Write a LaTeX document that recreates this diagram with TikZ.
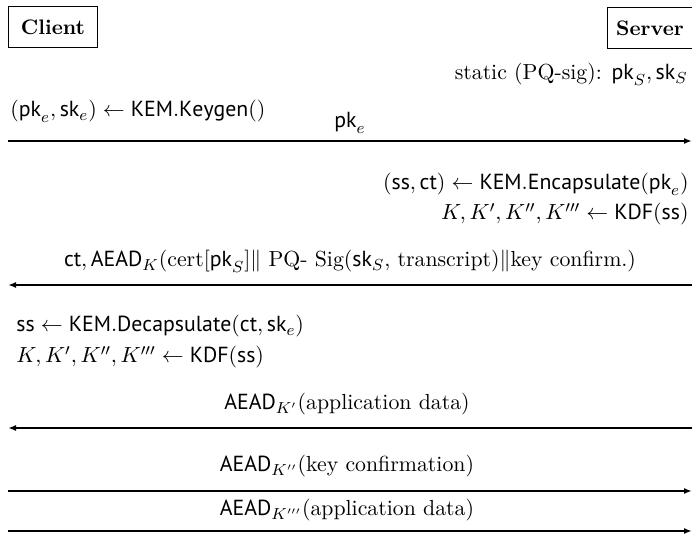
\documentclass[tikz,border=0pt]{standalone}
\usepackage{fontspec}
\setsansfont{PT Sans}
\usetikzlibrary{arrows.meta}

\begin{document}
\begin{tikzpicture}[x=0.5pt,y=-0.5pt,
  party/.style={draw, line width=0.5pt, font=\fontsize{10.5}{13}\selectfont\bfseries,
    inner sep=0pt, minimum height=20.5pt, anchor=north west},
  msg/.style={line width=0.8pt},
  tipR/.style={-{Latex[length=4pt,width=3pt]}},
  lbl/.style={inner sep=0pt, font=\fontsize{10.9}{13}\selectfont}]
\useasboundingbox (0,0) rectangle (692,534);

% parties
\node[party, minimum width=44.5pt] (client) at (8,6) {Client};
\node[party, minimum width=42.5pt] (server) at (607,7) {Server};

% long-term server key
\node[lbl, anchor=base east] (static) at (688,80)
  {static (PQ-sig): $\mathsf{pk}_S, \mathsf{sk}_S$};

% client key generation and first flight
\node[lbl, anchor=base west] (keygen) at (10,117)
  {$(\mathsf{pk}_e, \mathsf{sk}_e) \leftarrow \mathsf{KEM.Keygen}()$};
\node[lbl, anchor=base] (m1) at (350,128) {$\mathsf{pk}_e$};
\coordinate (c1) at (8,141);
\coordinate (s1) at (692,141);
\draw[msg, tipR] (c1) -- (s1);

% server encapsulation
\node[lbl, anchor=base east] (encap) at (689,190)
  {$(\mathsf{ss}, \mathsf{ct}) \leftarrow \mathsf{KEM.Encapsulate}(\mathsf{pk}_e)$};
\node[lbl, anchor=base east] (kdfS) at (689,220)
  {$K, K', K'', K''' \leftarrow \mathsf{KDF}(\mathsf{ss})$};
\node[lbl, anchor=base] (m2) at (350,267)
  {$\mathsf{ct}, \mathsf{AEAD}_K$(cert[$\mathsf{pk}_S$]$\|$ PQ- Sig($\mathsf{sk}_S$, transcript)$\|$key confirm.)};
\coordinate (s2) at (692,285);
\coordinate (c2) at (8,285);
\draw[msg, tipR] (s2) -- (c2);

% client decapsulation
\node[lbl, anchor=base west] (decap) at (16,332)
  {$\mathsf{ss} \leftarrow \mathsf{KEM.Decapsulate}(\mathsf{ct}, \mathsf{sk}_e)$};
\node[lbl, anchor=base west] (kdfC) at (16,363)
  {$K, K', K'', K''' \leftarrow \mathsf{KDF}(\mathsf{ss})$};

% encrypted traffic
\node[lbl, anchor=base] (m3) at (347,410)
  {$\mathsf{AEAD}_{K'}$(application data)};
\coordinate (s3) at (692,428);
\coordinate (c3) at (8,428);
\draw[msg, tipR] (s3) -- (c3);

\node[lbl, anchor=base] (m4) at (347,472)
  {$\mathsf{AEAD}_{K''}$(key confirmation)};
\coordinate (c4) at (8,491);
\coordinate (s4) at (692,491);
\draw[msg, tipR] (c4) -- (s4);

\node[lbl, anchor=base] (m5) at (347,516)
  {$\mathsf{AEAD}_{K'''}$(application data)};
\coordinate (c5) at (8,531);
\coordinate (s5) at (692,531);
\draw[msg, tipR] (c5) -- (s5);
\end{tikzpicture}
\end{document}
